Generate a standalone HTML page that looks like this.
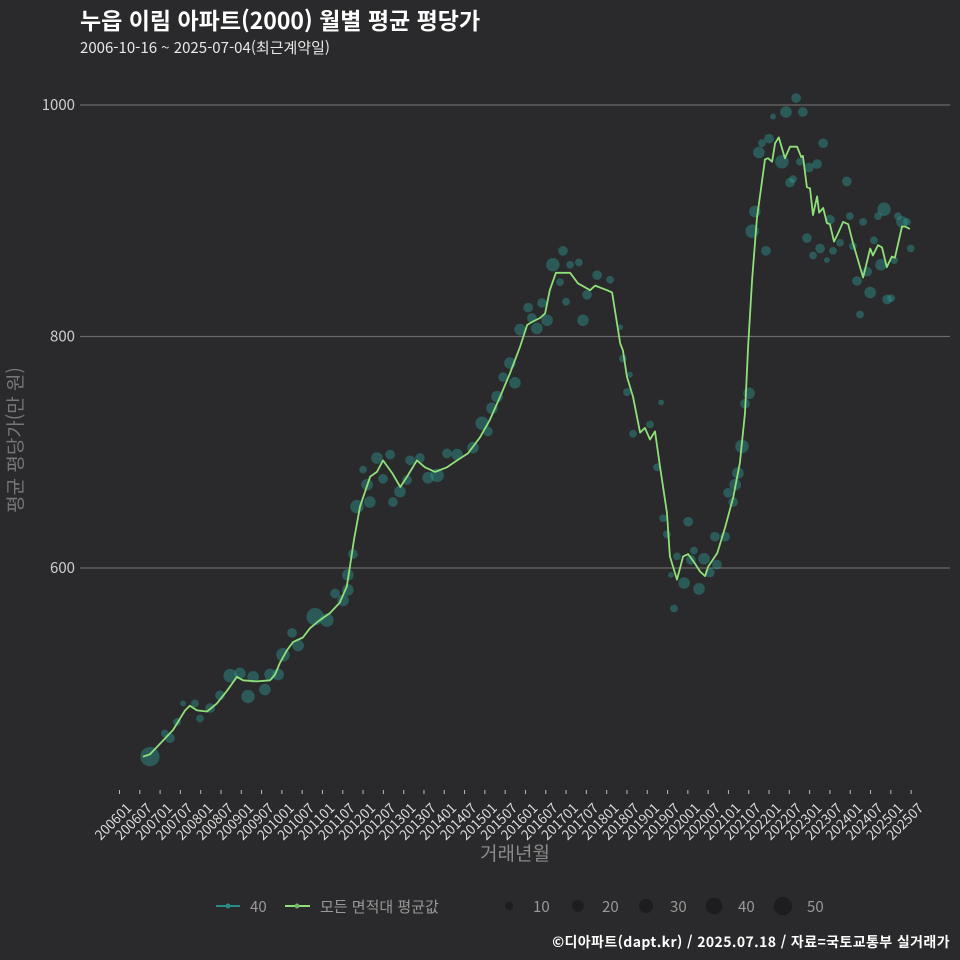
<!DOCTYPE html>
<html lang="ko"><head><meta charset="utf-8">
<style>
html,body{margin:0;padding:0;background:#2a292b;}
svg{display:block;font-family:"Noto Sans CJK KR","Liberation Sans",sans-serif;}
</style></head>
<body>
<svg id="chart" width="960" height="960" viewBox="0 0 960 960">
<rect width="960" height="960" fill="#2a292b"/>
<text x="80" y="29" fill="#ffffff" font-size="23" font-weight="bold">누읍 이림 아파트(2000) 월별 평균 평당가</text>
<text x="80" y="53" fill="#e8e8e8" font-size="15">2006-10-16 ~ 2025-07-04(최근계약일)</text>
<g id="grid"></g>
<g id="bubbles"></g>
<g id="line"></g>
<g id="xaxis"></g>
<g id="yaxis"></g>
<text x="515" y="860" fill="#8a8a8a" font-size="19" text-anchor="middle">거래년월</text>
<text transform="translate(22,440) rotate(-90)" fill="#777" font-size="19" text-anchor="middle" font-family="Noto Sans CJK KR, sans-serif">평균 평당가(만 원)</text>
<g>
  <g>
    <line x1="216" y1="906" x2="240" y2="906" stroke="#2a8a88" stroke-width="2"/>
    <circle cx="228" cy="906" r="2.5" fill="#2a8a88"/>
    <text x="250" y="912" fill="#999" font-size="15">40</text>
  </g>
  <g>
    <line x1="285" y1="906" x2="310" y2="906" stroke="#8fe07a" stroke-width="2"/>
    <circle cx="297" cy="906" r="2.5" fill="#6cb860"/>
    <text x="320" y="912" fill="#999" font-size="15">모든 면적대 평균값</text>
  </g>
  <g id="sizeLegend"></g>
</g>
<text x="950" y="947" fill="#ffffff" font-size="14" font-weight="bold" letter-spacing="0.4" text-anchor="end">©디아파트(dapt.kr) / 2025.07.18 / 자료=국토교통부 실거래가</text>
</svg>
<script>
// ---- data (month index from 2006-01 = 0) ----
const yTicks = [600, 800, 1000];
const xTickLabels = ["200601","200607","200701","200707","200801","200807","200901","200907","201001","201007","201101","201107","201201","201207","201301","201307","201401","201407","201501","201507","201601","201607","201701","201707","201801","201807","201901","201907","202001","202007","202101","202107","202201","202207","202301","202307","202401","202407","202501","202507"];
const lineMonths = [6.9,9.0,12.9,15.8,19.4,20.8,22.9,25.9,28.8,31.8,34.7,36.5,40.6,44.5,46.0,47.4,49.5,51.3,54.2,56.3,59.2,62.2,65.1,67.2,68.1,69.3,71.1,74.1,76.1,77.9,80.6,83.0,85.0,87.9,90.3,93.3,96.8,99.8,103.0,106.6,109.5,112.5,115.4,118.4,120.5,122.2,124.3,125.8,127.2,129.0,130.8,133.2,135.5,139.1,140.6,144.1,145.6,148.0,148.8,150.0,151.8,153.9,155.3,156.8,158.3,159.8,161.8,162.7,164.8,166.6,168.1,170.1,171.6,173.1,174.0,176.7,179.0,181.4,183.4,184.9,185.8,187.0,188.4,190.8,191.7,192.9,193.8,194.9,196.7,198.2,200.3,201.5,202.0,203.2,204.1,205.0,206.2,206.8,208.0,209.1,210.0,211.2,212.4,213.9,215.4,216.8,219.8,221.9,222.7,224.2,225.4,226.8,228.3,229.2,231.3,232.2,233.6];
const lineValues = [437,439,451,460,477,481,477,476,483,494,506,503,502,503,508,518,529,536,540,548,555,561,570,584,601,624,653,679,683,693,682,670,679,693,687,683,687,693,699,713,728,748,768,791,810,813,816,820,840,855,855,855,846,840,844,840,838,794,788,765,748,717,721,711,718,687,648,610,590,610,612,604,597,593,601,613,635,661,691,734,791,849,902,953,954,951,967,972,954,964,964,955,956,929,928,905,921,907,911,898,897,882,889,899,897,881,851,876,870,879,877,860,869,868,895,895,893];
const bubbleMonths = [9.0,13.4,14.9,17.0,18.8,22.3,23.8,26.8,29.7,32.7,35.6,38.0,39.5,43.0,44.5,46.9,48.3,51.0,52.8,57.8,61.3,63.7,66.1,67.5,67.5,69.0,70.2,72.0,73.2,74.0,76.1,77.9,80.0,80.8,82.9,85.0,85.9,88.8,91.2,93.9,96.8,99.8,104.5,107.2,108.9,110.1,111.6,113.4,115.4,116.9,118.4,120.8,121.9,123.4,124.9,126.4,128.1,131.1,130.2,132.0,133.2,135.8,137.0,138.2,141.2,145.0,148.0,148.8,150.9,150.0,160.1,151.8,156.8,158.9,160.7,161.8,168.1,164.8,169.8,168.9,172.8,166.9,171.3,163.9,163.0,174.5,176.6,176.0,179.0,179.9,181.4,182.0,182.8,184.0,184.9,186.1,187.0,187.8,191.1,189.0,189.9,192.0,193.2,197.0,200.0,202.0,195.8,198.2,199.1,201.1,203.8,206.2,208.0,203.2,205.0,207.1,209.1,210.9,210.0,213.0,215.0,215.9,216.8,218.0,219.8,221.0,221.9,218.9,223.0,224.2,226.0,225.1,226.9,228.1,229.0,230.1,231.3,232.8,233.9];
const bubbleValues = [437,457,453,467,483,483,470,479,490,507,509,489,506,495,508,508,525,544,533,558,555,578,572,581,594,612,653,685,672,657,695,677,698,657,666,676,693,695,678,680,699,698,704,725,718,738,748,765,777,760,806,825,816,807,829,814,862,874,847,830,862,864,814,836,853,849,808,781,767,752,743,716,724,687,643,629,640,610,615,607,608,587,582,565,594,596,603,627,627,665,657,672,682,705,742,751,891,908,874,959,967,971,990,994,1006,994,951,933,936,951,946,949,967,885,870,876,866,874,901,881,934,904,878,848,899,856,838,819,883,904,910,862,832,833,866,904,899,899,876];
const bubbleCounts = [55,9,14,9,5,9,9,14,14,27,20,27,20,20,20,20,27,14,20,44,27,14,20,20,20,14,27,9,20,20,20,14,14,14,20,14,14,14,20,27,14,20,20,27,14,20,20,14,20,20,20,14,14,20,14,20,27,14,9,9,9,9,20,14,14,9,5,9,5,9,5,9,9,9,9,9,14,9,9,14,20,20,20,9,5,14,14,14,14,14,14,20,20,27,14,20,27,20,14,20,9,14,5,20,14,14,27,14,9,9,14,14,14,14,9,14,5,9,14,9,14,9,9,14,9,14,20,9,9,9,27,20,14,9,9,9,20,9,9];
const sizeLegendValues = [10,20,30,40,50];

// ---- scales ----
const X0 = 119.5, XM = 3.383;
function xScale(m){ return X0 + m*XM; }
function yScale(v){ return 568 - (v-600)*1.1575; }
function rScale(n){ return 1.3*Math.sqrt(n); }
const NS = "http://www.w3.org/2000/svg";
function mk(tag, attrs, parent){ const e=document.createElementNS(NS,tag); for(const k in attrs) e.setAttribute(k,attrs[k]); parent.appendChild(e); return e; }

const grid=document.getElementById('grid'), yaxis=document.getElementById('yaxis'), xaxis=document.getElementById('xaxis');
yTicks.forEach(v=>{
  const l=mk('line',{x1:80,x2:950,y1:yScale(v),y2:yScale(v),stroke:'#6a6a6a','stroke-width':1.2},grid);
  
  
  const t=mk('text',{x:75,y:yScale(v)+5,fill:'#cfcfcf','font-size':15,'text-anchor':'end'},yaxis);
  t.textContent=v;
  
  
});
xTickLabels.forEach((lab,i)=>{
  const x=xScale(i*6);
  const tk=mk('line',{x1:x,x2:x,y1:790,y2:794,stroke:'#bbb','stroke-width':1},xaxis);
  
  
  const t=mk('text',{transform:`translate(${x+4},${800}) rotate(-45)`,fill:'#dcdcdc','font-size':13.5,'text-anchor':'end','dominant-baseline':'hanging'},xaxis);
  t.textContent=lab;
  
  
});

const bg=document.getElementById('bubbles');
bubbleMonths.forEach((m,i)=>{
  const c=mk('circle',{cx:xScale(m),cy:yScale(bubbleValues[i]),r:rScale(bubbleCounts[i]),fill:'rgba(46,160,150,0.42)'},bg);
  
  
});

const lg=document.getElementById('line');
const d=lineMonths.map((m,i)=>(i?'L':'M')+xScale(m).toFixed(1)+','+yScale(lineValues[i]).toFixed(1)).join(' ');
const p=mk('path',{d:d,fill:'none',stroke:'#8fe07a','stroke-width':1.8,'stroke-linejoin':'round'},lg);



const sl=document.getElementById('sizeLegend');
const slX=[509,578,646,714,783];
sizeLegendValues.forEach((n,i)=>{
  const c=mk('circle',{cx:slX[i],cy:906,r:rScale(n),fill:'#1d1c1e'},sl);
  
  
  const t=mk('text',{x:slX[i]+24,y:912,fill:'#999','font-size':15},sl);
  t.textContent=n;
  
  
});
</script>
</body></html>
